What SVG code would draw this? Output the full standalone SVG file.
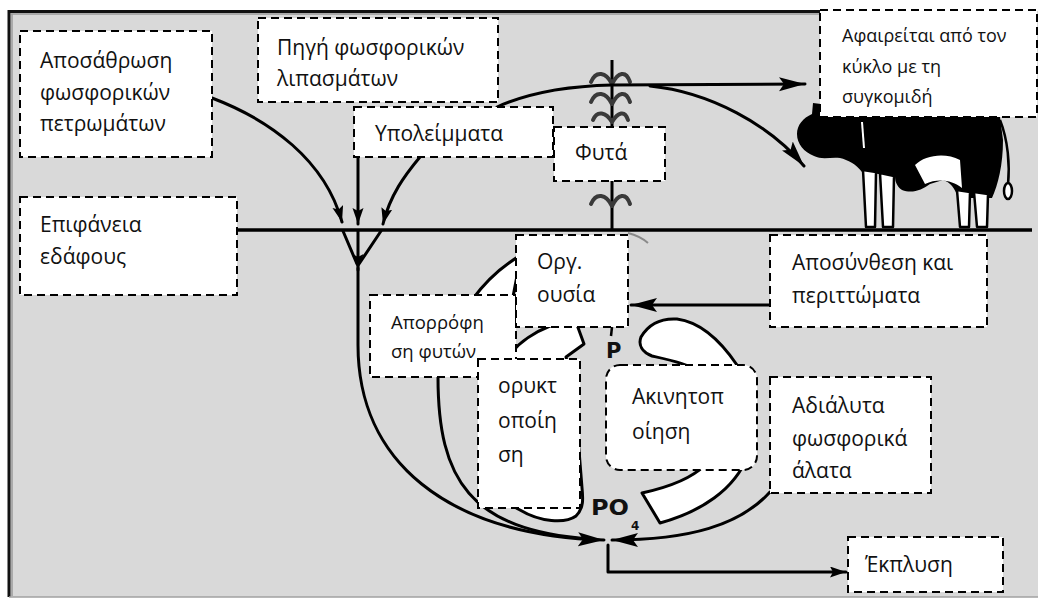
<svg xmlns="http://www.w3.org/2000/svg" width="1038" height="599" viewBox="0 0 1038 599">
  <style>
    .box { fill: #ffffff; stroke: #000000; stroke-width: 2; stroke-dasharray: 8 5; }
    .lbl { font-family: "Open Sans", "Noto Sans", "DejaVu Sans", sans-serif; font-size: 21px; fill: #111111; }
    .sm { font-size: 18px; }
    .md { font-size: 18.5px; }
    .ln { fill: none; stroke: #000000; stroke-width: 3; stroke-linecap: round; stroke-linejoin: round; }
    .band { fill: #ffffff; stroke: #000000; stroke-width: 3; stroke-linejoin: round; }
    .leaf { fill: none; stroke: #3a3a3a; stroke-width: 4; stroke-linecap: round; }
    .chem { font-family: "DejaVu Sans", "Liberation Sans", sans-serif; font-weight: bold; fill: #111111; }
  </style>
  <defs>
    <marker id="arrowBig" markerUnits="userSpaceOnUse" markerWidth="28" markerHeight="16" refX="26" refY="7" orient="auto">
      <path d="M0,0 L26,7 L0,14 L5,7 Z" fill="#000000"/>
    </marker>
    <marker id="arrowSmall" markerUnits="userSpaceOnUse" markerWidth="18" markerHeight="12" refX="16" refY="5.5" orient="auto">
      <path d="M0,0 L16,5.5 L0,11 L3,5.5 Z" fill="#000000"/>
    </marker>
  </defs>

  <!-- frame and background -->
  <rect x="0" y="0" width="1038" height="599" fill="#ffffff"/>
  <rect x="9" y="11" width="1029" height="586" fill="#d9d9d9"/>
  <path d="M8,11.5 L820,11.5" stroke="#111111" stroke-width="3"/>
  <path d="M11,14 L820,14" stroke="#9a9a9a" stroke-width="1.5"/>
  <path d="M9,10 L9,597" stroke="#111111" stroke-width="3"/>
  <path d="M12,14 L12,596" stroke="#9a9a9a" stroke-width="1.5"/>
  <path d="M9,597 L1038,597" stroke="#a0a0a0" stroke-width="1.5"/>

  <!-- soil surface -->
  <path d="M237,230 L1032,230" stroke="#000000" stroke-width="3.5"/>

  <!-- plant -->
  <g id="plant">
    <path d="M612,60 L612,230" stroke="#000000" stroke-width="3"/>
    <path class="leaf" d="M612,84 C606,72 596,70 591,82 M612,84 C618,72 626,70 630,82"/>
    <path class="leaf" d="M612,104 C606,92 596,90 591,102 M612,104 C618,92 626,90 630,102"/>
    <path class="leaf" d="M612,122 C606,112 597,110 593,120 M612,122 C618,112 625,110 628,120"/>
    <path class="leaf" d="M612,206 C606,194 596,192 591,204 M612,206 C618,194 626,192 630,204"/>
    <path d="M628,233 Q640,236 648,243" fill="none" stroke="#8a8a8a" stroke-width="2"/>
  </g>

  <!-- cow -->
  <g id="cow">
    <path d="M813,103 L821,104 L822,117 L1000,117 L1003,140 C1003,165 998,185 992,198 L958,198 C955,188 950,182 943,180 L930,184 C922,190 912,194 902,190 C896,186 895,180 895,176 L862,172 C856,164 848,160 840,158 C830,157 822,160 814,156 C804,152 797,144 797,134 C797,125 803,118 812,114 Z" fill="#000000"/>
    <path d="M915,165 C925,155 945,152 960,160 L962,188 C952,180 938,178 925,184 Z" fill="#ffffff"/>
    <path d="M862,122 L864,148" stroke="#ffffff" stroke-width="2"/>
    <g fill="#ffffff" stroke="#000000" stroke-width="2.5" stroke-linejoin="round">
      <path d="M863,170 L876,172 L875,227 L866,227 Z"/>
      <path d="M880,173 L894,176 L893,227 L883,227 Z"/>
      <path d="M957,190 L970,192 L969,227 L960,227 Z"/>
      <path d="M974,192 L988,194 L987,227 L977,227 Z"/>
    </g>
    <path d="M1000,120 C1008,140 1010,165 1008,185" fill="none" stroke="#000000" stroke-width="2.5"/>
    <ellipse cx="1008" cy="191" rx="4" ry="8" fill="#ffffff" stroke="#000000" stroke-width="2.5"/>
  </g>

  <!-- phosphorus transformation bands -->
  <g id="bands">
    <path class="band" d="M530,250 Q495,268 472,300 C455,325 470,365 495,385 L505,480 C505,500 510,505 520,510 C540,522 565,524 576,516 C584,508 583,498 582,488 L575,400 L566,357 L584,344 L576,322 L550,326 C535,332 520,342 512,352 L500,365 L520,260 Z"/>
    <path class="band" d="M660,523 C700,512 735,490 748,455 C760,420 755,385 737,365 C720,340 700,322 677,319 C660,318 648,325 641,337 C638,345 642,352 652,356 C670,360 690,364 705,375 C725,395 728,440 705,465 C690,480 665,488 642,493 Z"/>
    <path d="M612,327 L611,336" stroke="#000000" stroke-width="2.5"/>
    <text class="chem" x="606" y="358" font-size="21">P</text>
    <text class="chem" x="591" y="515" font-size="21" textLength="38" lengthAdjust="spacingAndGlyphs">PO</text>
    <text class="chem" x="631" y="530" font-size="12">4</text>
  </g>

  <!-- connectors -->
  <g id="connectors">
    <path class="ln" d="M212,98 C270,120 325,160 342,222" marker-end="url(#arrowSmall)"/>
    <path class="ln" d="M358,157 L358,224" marker-end="url(#arrowSmall)"/>
    <path class="ln" d="M420,157 C405,175 390,195 383,224" marker-end="url(#arrowSmall)"/>
    <path class="ln" d="M343,231 L357,264 M381,231 L359,264"/>
    <path class="ln" d="M358,231 L358,270" marker-end="url(#arrowSmall)"/>
    <path class="ln" d="M358,268 L358,345 C358,460 445,535 604,540" marker-end="url(#arrowBig)"/>
    <path class="ln" d="M438,377 C438,480 470,530 590,539"/>
    <path class="ln" d="M770,492 C740,525 690,540 612,540" marker-end="url(#arrowBig)"/>
    <path class="ln" d="M608,545 L608,572 L846,572" marker-end="url(#arrowSmall)"/>
    <path class="ln" d="M770,305 L631,305" marker-end="url(#arrowBig)"/>
    <path class="ln" d="M497,107 C530,92 570,86 612,85 L805,84" marker-end="url(#arrowBig)"/>
    <path class="ln" d="M650,86 C710,92 770,125 804,166" marker-end="url(#arrowBig)"/>
  </g>

  <!-- labels -->
  <g id="weathering">
    <rect class="box" x="20" y="31" width="192" height="126"/>
    <text class="lbl" x="40" y="68">Αποσάθρωση</text>
    <text class="lbl" x="40" y="99.5">φωσφορικών</text>
    <text class="lbl" x="40" y="131">πετρωμάτων</text>
  </g>
  <g id="fertilizer">
    <rect class="box" x="258" y="18" width="240" height="84"/>
    <text class="lbl" x="277" y="55">Πηγή φωσφορικών</text>
    <text class="lbl" x="277" y="86">λιπασμάτων</text>
  </g>
  <g id="residues">
    <rect class="box" x="354" y="107" width="199" height="50"/>
    <text class="lbl" x="375" y="141">Υπολείμματα</text>
  </g>
  <g id="plants">
    <rect class="box" x="554" y="127" width="111" height="54"/>
    <text class="lbl" x="575" y="160">Φυτά</text>
  </g>
  <g id="harvest">
    <rect class="box" x="820" y="10" width="217" height="107"/>
    <text class="lbl sm" x="842" y="42">Αφαιρείται από τον</text>
    <text class="lbl sm" x="842" y="72.5">κύκλο με τη</text>
    <text class="lbl sm" x="842" y="103">συγκομιδή</text>
  </g>
  <g id="surface">
    <rect class="box" x="20" y="197" width="217" height="98"/>
    <text class="lbl" x="40" y="232">Επιφάνεια</text>
    <text class="lbl" x="40" y="264">εδάφους</text>
  </g>
  <g id="uptake">
    <rect class="box" x="370" y="295" width="146" height="82"/>
    <text class="lbl md" x="391" y="329">Απορρόφη</text>
    <text class="lbl md" x="391" y="358">ση φυτών</text>
  </g>
  <g id="organic">
    <rect class="box" x="516" y="235" width="112" height="92"/>
    <text class="lbl" x="537" y="269">Οργ.</text>
    <text class="lbl" x="537" y="302">ουσία</text>
  </g>
  <g id="mineralization">
    <rect class="box" x="478" y="359" width="102" height="149"/>
    <text class="lbl" x="498" y="393">ορυκτ</text>
    <text class="lbl" x="498" y="428">οποίη</text>
    <text class="lbl" x="498" y="462">ση</text>
  </g>
  <g id="immobilization">
    <rect class="box" x="606" y="365" width="151" height="105" rx="14" ry="14"/>
    <text class="lbl" x="632" y="404">Ακινητοπ</text>
    <text class="lbl" x="632" y="439">οίηση</text>
  </g>
  <g id="decomposition">
    <rect class="box" x="770" y="235" width="217" height="92"/>
    <text class="lbl" x="792" y="270">Αποσύνθεση και</text>
    <text class="lbl" x="792" y="303">περιττώματα</text>
  </g>
  <g id="insoluble">
    <rect class="box" x="770" y="377" width="161" height="116"/>
    <text class="lbl" x="792" y="413">Αδιάλυτα</text>
    <text class="lbl" x="792" y="445.5">φωσφορικά</text>
    <text class="lbl" x="792" y="478">άλατα</text>
  </g>
  <g id="leaching">
    <rect class="box" x="848" y="537" width="155" height="55"/>
    <text class="lbl" x="865" y="572">Έκπλυση</text>
  </g>
</svg>
